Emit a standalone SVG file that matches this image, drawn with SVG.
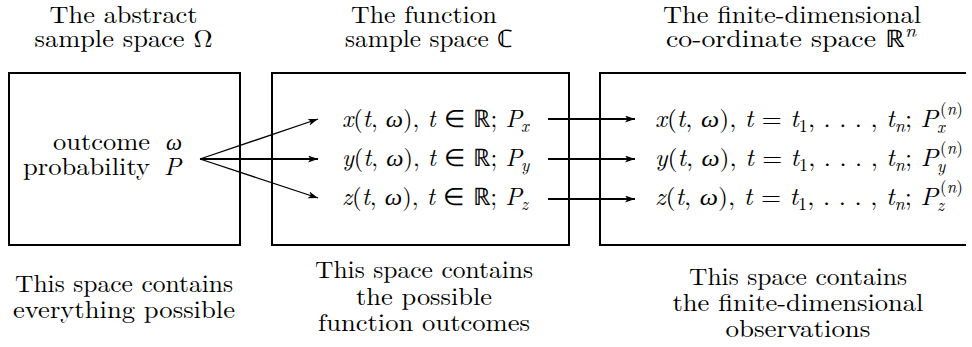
<svg xmlns="http://www.w3.org/2000/svg" width="972" height="347" viewBox="0 0 972 347">
<style>
text{fill:#000;font-size:24px}
.i{font-style:italic}
.s{font-size:17px}
.mid{text-anchor:middle}
.end{text-anchor:end}
.box{fill:none;stroke:#000;stroke-width:2}
.c{fill:none;stroke:#000}
.thick{stroke-width:2}
.thin{stroke-width:1.3}
</style>
<defs>
<marker id="ah" markerUnits="userSpaceOnUse" markerWidth="12" markerHeight="8" refX="10" refY="3.5" orient="auto" viewBox="0 0 12 8">
<path d="M0,0 L10,3.5 L0,7 L2.5,3.5 z" fill="#000"/>
</marker>
</defs>
<rect width="972" height="347" fill="#fff"/>
<g font-family="Latin Modern Roman, Liberation Serif, serif">

<g id="abstract-space">
<rect class="box" x="9" y="73" width="231" height="172"/>
<text class="mid" x="123.5" y="23" textLength="148" lengthAdjust="spacingAndGlyphs">The abstract</text>
<text class="mid" x="123.5" y="47" textLength="178" lengthAdjust="spacingAndGlyphs">sample space Ω</text>
<text class="end" x="150" y="150" textLength="97" lengthAdjust="spacingAndGlyphs">outcome</text>
<text class="i" x="166" y="150" textLength="16" lengthAdjust="spacingAndGlyphs" font-family="Liberation Serif, serif">ω</text>
<text class="end" x="150" y="175" textLength="127" lengthAdjust="spacingAndGlyphs">probability</text>
<text class="i" x="164" y="175" textLength="17" lengthAdjust="spacingAndGlyphs">P</text>
<text class="mid" x="124" y="292" textLength="218" lengthAdjust="spacingAndGlyphs">This space contains</text>
<text class="mid" x="124" y="318" textLength="222" lengthAdjust="spacingAndGlyphs">everything possible</text>
</g>

<g id="function-space">
<rect class="box" x="272" y="73" width="297" height="172"/>
<text class="mid" x="424" y="23" textLength="146" lengthAdjust="spacingAndGlyphs">The function</text>
<text class="mid" x="429" y="47" textLength="168" lengthAdjust="spacingAndGlyphs">sample space ℂ</text>
<text x="342" y="127" textLength="180" lengthAdjust="spacingAndGlyphs"><tspan class="i">x</tspan>(<tspan class="i">t</tspan>, <tspan class="i" font-family="Liberation Serif, serif">ω</tspan>), <tspan class="i">t</tspan> <tspan font-family="Liberation Serif, serif">∈</tspan> ℝ;  <tspan class="i">P</tspan></text>
<text class="s i" x="521" y="132">x</text>
<text x="342" y="166" textLength="180" lengthAdjust="spacingAndGlyphs"><tspan class="i">y</tspan>(<tspan class="i">t</tspan>, <tspan class="i" font-family="Liberation Serif, serif">ω</tspan>), <tspan class="i">t</tspan> <tspan font-family="Liberation Serif, serif">∈</tspan> ℝ;  <tspan class="i">P</tspan></text>
<text class="s i" x="521" y="171">y</text>
<text x="342" y="205" textLength="180" lengthAdjust="spacingAndGlyphs"><tspan class="i">z</tspan>(<tspan class="i">t</tspan>, <tspan class="i" font-family="Liberation Serif, serif">ω</tspan>), <tspan class="i">t</tspan> <tspan font-family="Liberation Serif, serif">∈</tspan> ℝ;  <tspan class="i">P</tspan></text>
<text class="s i" x="521" y="210">z</text>
<text class="mid" x="424" y="278" textLength="218" lengthAdjust="spacingAndGlyphs">This space contains</text>
<text class="mid" x="424" y="305" textLength="136" lengthAdjust="spacingAndGlyphs">the possible</text>
<text class="mid" x="424" y="331" textLength="212" lengthAdjust="spacingAndGlyphs">function outcomes</text>
</g>

<g id="coordinate-space">
<path class="box" d="M966,73 H600 V245 H966"/>
<text class="mid" x="792" y="23" textLength="258" lengthAdjust="spacingAndGlyphs">The finite-dimensional</text>
<text class="mid" x="791" y="47" textLength="250" lengthAdjust="spacingAndGlyphs">co-ordinate space ℝ<tspan class="s i" dy="-10">n</tspan></text>
<text x="655" y="127" textLength="283" lengthAdjust="spacingAndGlyphs"><tspan class="i">x</tspan>(<tspan class="i">t</tspan>, <tspan class="i" font-family="Liberation Serif, serif">ω</tspan>), <tspan class="i">t</tspan> = <tspan class="i">t</tspan><tspan class="s" dy="5">1</tspan><tspan dy="-5">, . . . , </tspan><tspan class="i">t</tspan><tspan class="s i" dy="5">n</tspan><tspan dy="-5">;  </tspan><tspan class="i">P</tspan></text>
<text class="s" x="937" y="133"><tspan class="i">x</tspan><tspan x="940" dy="-18">(<tspan class="i">n</tspan>)</tspan></text>
<text x="655" y="166" textLength="283" lengthAdjust="spacingAndGlyphs"><tspan class="i">y</tspan>(<tspan class="i">t</tspan>, <tspan class="i" font-family="Liberation Serif, serif">ω</tspan>), <tspan class="i">t</tspan> = <tspan class="i">t</tspan><tspan class="s" dy="5">1</tspan><tspan dy="-5">, . . . , </tspan><tspan class="i">t</tspan><tspan class="s i" dy="5">n</tspan><tspan dy="-5">;  </tspan><tspan class="i">P</tspan></text>
<text class="s" x="937" y="172"><tspan class="i">y</tspan><tspan x="940" dy="-18">(<tspan class="i">n</tspan>)</tspan></text>
<text x="655" y="205" textLength="283" lengthAdjust="spacingAndGlyphs"><tspan class="i">z</tspan>(<tspan class="i">t</tspan>, <tspan class="i" font-family="Liberation Serif, serif">ω</tspan>), <tspan class="i">t</tspan> = <tspan class="i">t</tspan><tspan class="s" dy="5">1</tspan><tspan dy="-5">, . . . , </tspan><tspan class="i">t</tspan><tspan class="s i" dy="5">n</tspan><tspan dy="-5">;  </tspan><tspan class="i">P</tspan></text>
<text class="s" x="937" y="211"><tspan class="i">z</tspan><tspan x="940" dy="-18">(<tspan class="i">n</tspan>)</tspan></text>
<text class="mid" x="798" y="285" textLength="218" lengthAdjust="spacingAndGlyphs">This space contains</text>
<text class="mid" x="798" y="311" textLength="251" lengthAdjust="spacingAndGlyphs">the finite-dimensional</text>
<text class="mid" x="798" y="337" textLength="145" lengthAdjust="spacingAndGlyphs">observations</text>
</g>

<g id="connectors">
<line class="c thin" x1="200" y1="159" x2="318" y2="119" marker-end="url(#ah)"/>
<line class="c thick" x1="200" y1="159" x2="318" y2="159" marker-end="url(#ah)"/>
<line class="c thin" x1="200" y1="159" x2="318" y2="198" marker-end="url(#ah)"/>
<line class="c thick" x1="548" y1="119" x2="635" y2="119" marker-end="url(#ah)"/>
<line class="c thick" x1="548" y1="159" x2="635" y2="159" marker-end="url(#ah)"/>
<line class="c thick" x1="548" y1="199" x2="635" y2="199" marker-end="url(#ah)"/>
</g>
</g>
</svg>
